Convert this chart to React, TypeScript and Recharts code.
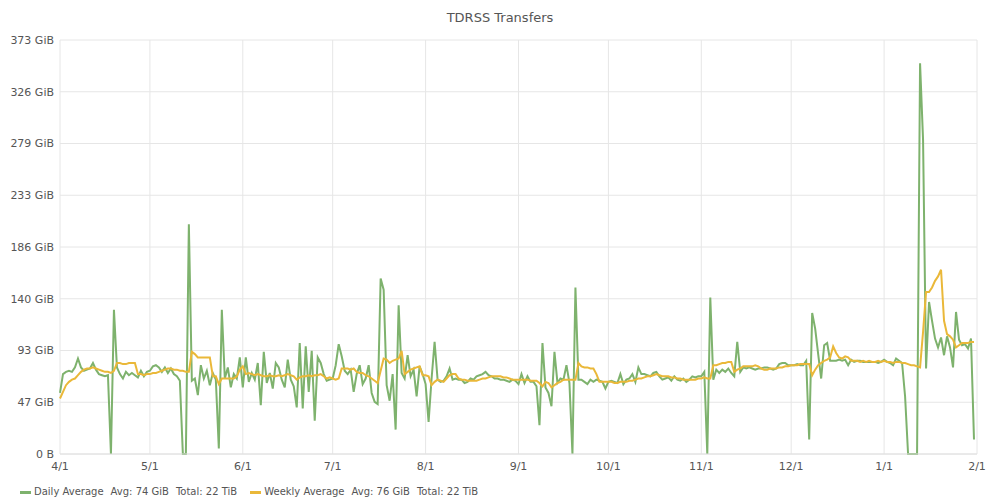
import { LineChart, Line, XAxis, YAxis, CartesianGrid, Legend } from 'recharts'

const MONTH_TICKS = [0, 30, 61, 91, 122, 153, 183, 214, 244, 275, 306]
const MONTH_LABELS = ['4/1', '5/1', '6/1', '7/1', '8/1', '9/1', '10/1', '11/1', '12/1', '1/1', '2/1']

const Y_MAX = 373
const Y_LABELS = ['0 B', '47 GiB', '93 GiB', '140 GiB', '186 GiB', '233 GiB', '279 GiB', '326 GiB', '373 GiB']

// GiB per day, starting 4/1
const DAILY = [
  55, 72, 74, 75, 74, 78, 86, 78, 75, 76,
  77, 82, 76, 72, 71, 70, 71, 0, 130, 78,
  72, 68, 74, 71, 73, 71, 69, 75, 70, 74,
  75, 79, 80, 78, 74, 78, 73, 77, 72, 70,
  66, 0, 0, 207, 66, 68, 53, 80, 68, 75,
  62, 73, 67, 5, 130, 68, 78, 60, 72, 68,
  87, 60, 87, 65, 73, 67, 82, 44, 92, 64,
  73, 59, 82, 78, 67, 60, 85, 67, 61, 42,
  100, 41, 97, 56, 93, 30, 87, 82, 72, 66,
  67, 68, 80, 99, 88, 75, 72, 76, 56, 72,
  80, 63, 68, 80, 55, 47, 45, 158, 148, 62,
  48, 72, 22, 134, 73, 68, 89, 70, 76, 52,
  79, 72, 63, 29, 68, 101, 67, 65, 66, 70,
  77, 67, 68, 67, 67, 64, 65, 68, 67, 70,
  71, 72, 74, 71, 70, 68, 68, 67, 67, 66,
  65, 67, 66, 63, 72, 64, 70, 65, 65, 61,
  26, 100, 60, 55, 43, 92, 64, 68, 67, 80,
  64, 0, 150, 67, 67, 65, 63, 67, 65, 67,
  66, 65, 59, 65, 66, 65, 64, 72, 63, 67,
  68, 72, 65, 78, 72, 72, 71, 70, 73, 74,
  70, 67, 68, 69, 66, 70, 67, 66, 68, 65,
  67, 70, 69, 70, 70, 74, 0, 141, 67, 76,
  73, 76, 74, 77, 73, 70, 101, 74, 78, 77,
  78, 77, 76, 77, 77, 78, 78, 77, 76, 77,
  81, 82, 82, 80, 80, 80, 81, 80, 80, 84,
  13, 127, 113, 90, 68, 98, 100, 84, 84, 84,
  85, 84, 85, 80, 85, 83, 84, 84, 83, 83,
  83, 83, 83, 82, 83, 85, 83, 82, 80, 86,
  84, 82, 52, 0, 0, 0, 0, 352, 283, 77,
  137, 120, 104, 96, 105, 89, 106, 96, 78, 128,
  103, 98, 99, 95, 104, 13
]

const WEEKLY = [
  50, 56, 62, 65, 67, 68, 71, 74, 76, 77,
  77, 78, 77, 76, 75, 74, 74, 73, 75, 82,
  82, 81, 81, 82, 82, 82, 72, 72, 71, 72,
  72, 73, 73, 74, 75, 76, 77, 77, 76, 76,
  75, 75, 74, 74, 92, 90, 87, 87, 87, 87,
  87, 70, 70, 63, 68, 68, 68, 68, 68, 70,
  76, 79, 72, 73, 72, 71, 72, 71, 70, 70,
  71, 70, 70, 71, 70, 71, 72, 71, 70, 67,
  69, 70, 70, 71, 70, 71, 71, 72, 70, 68,
  69, 68, 67, 68, 77, 77, 77, 76, 77, 74,
  73, 73, 71, 70, 68, 66, 64, 75, 86, 85,
  82, 84, 85, 86, 93, 72, 74, 76, 77, 78,
  79, 71, 71, 70, 62, 65, 67, 66, 65, 68,
  71, 72, 72, 68, 67, 67, 66, 66, 66, 66,
  67, 68, 68, 69, 70, 70, 70, 70, 69, 69,
  68, 67, 67, 67, 67, 67, 67, 66, 66, 66,
  64, 61, 65, 64, 60, 62, 64, 65, 67, 67,
  67, 67, 67, 82, 79, 78, 78, 77, 77, 72,
  65, 65, 65, 65, 65, 64, 64, 65, 65, 65,
  66, 66, 67, 68, 68, 69, 70, 70, 71, 72,
  71, 70, 70, 70, 69, 69, 68, 68, 67, 67,
  67, 67, 67, 68, 68, 69, 68, 68, 80, 80,
  81, 82, 82, 83, 83, 74, 76, 77, 79, 79,
  79, 79, 80, 79, 77, 76, 76, 77, 77, 77,
  78, 78, 79, 79, 80, 80, 80, 81, 81, 81,
  81, 71, 76, 80, 82, 84, 85, 87, 97, 91,
  87, 86, 88, 87, 84, 84, 84, 83, 84, 83,
  84, 83, 83, 84, 83, 84, 83, 83, 82, 83,
  83, 82, 82, 81, 80, 80, 79, 78, 110, 146,
  146, 150, 156, 160, 166, 120, 108, 106, 103, 96,
  98, 100, 100, 100, 101, 101
]

const SERIES = [
  { key: 'daily', name: 'Daily Average', avg: '74 GiB', total: '22 TiB', color: '#7eb26d' },
  { key: 'weekly', name: 'Weekly Average', avg: '76 GiB', total: '22 TiB', color: '#eab839' }
]

const data = DAILY.map((v, i) => ({ day: i, daily: v, weekly: WEEKLY[i] }))
const yTicks = Y_LABELS.map((_, i) => (i * Y_MAX) / 8)

const FONT = '"DejaVu Sans", sans-serif'

function LegendContent() {
  return (
    <div
      style={{
        height: 26,
        paddingTop: 10,
        paddingLeft: 20,
        boxSizing: 'border-box',
        display: 'flex',
        fontSize: 10,
        lineHeight: '14px',
        color: '#555',
        fontFamily: FONT,
        whiteSpace: 'nowrap'
      }}
    >
      {SERIES.map((s) => (
        <div key={s.key} style={{ display: 'flex', alignItems: 'center', marginRight: 13 }}>
          <span style={{ width: 11, height: 3, background: s.color, marginRight: 3, display: 'inline-block' }} />
          <span>{s.name}</span>
          <span style={{ marginLeft: 7 }}>Avg: {s.avg}</span>
          <span style={{ marginLeft: 7 }}>Total: {s.total}</span>
        </div>
      ))}
    </div>
  )
}

export default function App() {
  return (
    <div style={{ position: 'absolute', left: 0, top: 0, width: 1000, height: 500, background: '#fff', fontFamily: FONT }}>
      <div
        style={{
          position: 'absolute',
          top: 10,
          left: 0,
          width: 1000,
          textAlign: 'center',
          fontSize: 13,
          lineHeight: '16px',
          color: '#555'
        }}
      >
        TDRSS Transfers
      </div>
      <LineChart width={1000} height={500} data={data} margin={{ top: 40, right: 23, left: 0, bottom: 0 }}>
        <CartesianGrid stroke="#e6e6e6" />
        <XAxis
          dataKey="day"
          type="number"
          domain={[0, 306]}
          ticks={MONTH_TICKS}
          interval={0}
          tickFormatter={(v, i) => MONTH_LABELS[i]}
          axisLine={{ stroke: '#e0e0e0' }}
          tickLine={false}
          tickSize={0}
          tickMargin={8}
          height={20}
          tick={{ fontSize: 11, fill: '#555', fontFamily: FONT }}
        />
        <YAxis
          type="number"
          domain={[0, Y_MAX]}
          ticks={yTicks}
          interval={0}
          tickFormatter={(v, i) => Y_LABELS[i]}
          axisLine={false}
          tickLine={false}
          tickSize={0}
          tickMargin={6}
          width={60}
          tick={{ fontSize: 11, fill: '#555', fontFamily: FONT }}
        />
        <Legend verticalAlign="bottom" align="left" content={<LegendContent />} />
        {SERIES.map((s) => (
          <Line
            key={s.key}
            type="linear"
            dataKey={s.key}
            name={s.name}
            stroke={s.color}
            strokeWidth={2}
            dot={false}
            isAnimationActive={false}
          />
        ))}
      </LineChart>
    </div>
  )
}
